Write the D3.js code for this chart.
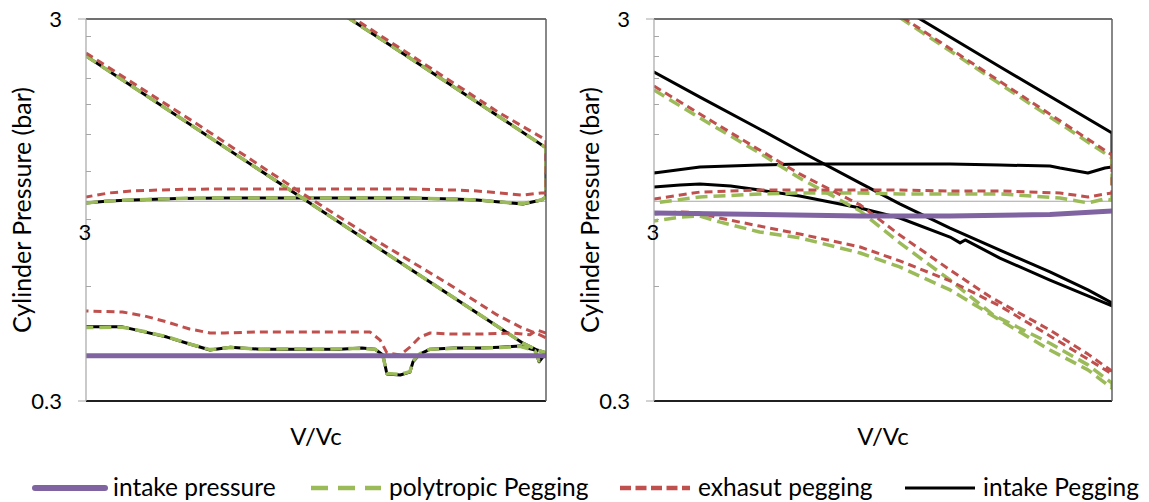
<!DOCTYPE html>
<html><head><meta charset="utf-8">
<script src="https://cdn.jsdelivr.net/npm/d3@7"></script>
<style>body{margin:0;background:#fff}svg{display:block}text{font-family:Lato,"Open Sans",sans-serif;fill:#000}</style>
</head><body>
<script>
// ---------- data ----------
const seriesNames = ["intake pressure","polytropic Pegging","exhasut pegging","intake Pegging"];
const yTickValues = [0.3, 0.83, 3];
const yTickTexts = ["0.3","3","3"];
const yMinorValues = [0.6,0.9,1.2,1.5,1.8,2.1,2.4,2.7];
const yGridValues = [1];
const yTitle = "Cylinder Pressure (bar)";
const xTitle = "V/Vc";

// Left panel
const leftIntake = [[1,0.394],[10,0.394]];
const leftPolyA = [[3.16,3.43],[5.01,2.39],[7.94,1.66],[10,1.38],[10,1.026],[9.77,1.008],[8.91,0.986],[7.94,0.996],[7.08,1.008],[6.31,1.014],[5.01,1.02],[3.98,1.02],[3.16,1.02],[2.51,1.02],[2.0,1.02],[1.58,1.017],[1.26,1.008],[1.12,1.002],[1,0.99]];
const leftIntakePegA = [[3.16,3.43],[5.01,2.39],[7.94,1.66],[10,1.38],[10,1.026],[9.77,1.008],[8.91,0.984],[7.94,0.996],[7.08,1.008],[6.31,1.014],[5.01,1.02],[3.98,1.02],[3.16,1.02],[2.51,1.02],[2.0,1.02],[1.58,1.017],[1.26,1.008],[1.12,1.002],[1,0.99]];
const leftExhA = [[3.16,3.49],[5.01,2.44],[7.94,1.70],[10,1.447],[10,1.051],[9.77,1.051],[8.91,1.038],[7.94,1.051],[7.08,1.064],[6.31,1.070],[5.01,1.077],[3.98,1.077],[3.16,1.077],[2.51,1.077],[2.0,1.077],[1.58,1.074],[1.26,1.064],[1.12,1.051],[1,1.026]];
const leftIntakePegB = [[1,2.40],[3.16,0.966],[7.94,0.466],[8.91,0.425],[9.56,0.408],[10,0.401],[9.66,0.380],[9.46,0.408],[8.78,0.418],[7.94,0.415],[7.19,0.413],[6.31,0.413],[5.60,0.410],[5.32,0.398],[5.14,0.380],[5.06,0.357],[4.82,0.351],[4.51,0.353],[4.42,0.396],[4.25,0.410],[3.98,0.413],[3.55,0.410],[3.16,0.410],[2.82,0.410],[2.39,0.410],[2.06,0.415],[1.86,0.408],[1.68,0.423],[1.50,0.441],[1.34,0.455],[1.20,0.469],[1,0.469]];
const leftPolyB = [[1,2.40],[3.16,0.966],[7.94,0.466],[8.91,0.425],[9.56,0.408],[10,0.401],[9.66,0.382],[9.46,0.406],[8.78,0.417],[7.94,0.414],[7.19,0.413],[6.31,0.412],[5.60,0.410],[5.32,0.399],[5.14,0.382],[5.06,0.358],[4.82,0.352],[4.51,0.354],[4.42,0.394],[4.25,0.410],[3.98,0.412],[3.55,0.411],[3.16,0.410],[2.82,0.411],[2.39,0.410],[2.06,0.414],[1.86,0.409],[1.68,0.423],[1.50,0.442],[1.34,0.456],[1.20,0.468],[1,0.467]];
const leftExhB = [[1,2.444],[1.77,1.574],[2.92,1.057],[4.36,0.778],[6.09,0.611],[7.83,0.504],[8.78,0.469],[9.70,0.447],[10,0.439],[10,0.452],[9.56,0.460],[9.23,0.447],[8.48,0.452],[7.19,0.449],[6.31,0.449],[5.60,0.452],[5.32,0.441],[5.06,0.415],[4.82,0.396],[4.51,0.401],[4.36,0.433],[4.14,0.455],[3.55,0.455],[2.92,0.455],[2.39,0.455],[2.0,0.452],[1.86,0.452],[1.68,0.463],[1.50,0.483],[1.34,0.501],[1.20,0.513],[1,0.516]];

// Right panel
const rightIntake = [[1,0.932],[2.82,0.915],[4.43,0.915],[7.32,0.923],[10,0.943]];
const rightIntakePegA = [[3.11,3.47],[5.69,2.25],[10,1.509],[10,1.230],[9.65,1.222],[8.86,1.186],[7.70,1.222],[7.32,1.237],[5.69,1.244],[4.43,1.252],[3.44,1.252],[2.82,1.252],[2.08,1.252],[1.70,1.244],[1.26,1.230],[1,1.186]];
const rightExhA = [[2.96,3.45],[5.69,2.06],[10,1.322],[10,1.051],[9.65,1.045],[8.86,1.026],[7.70,1.051],[5.69,1.064],[4.43,1.064],[3.44,1.070],[2.82,1.070],[2.08,1.070],[1.70,1.070],[1.26,1.057],[1,1.014]];
const rightPolyA = [[2.96,3.41],[5.69,2.03],[10,1.298],[10,1.008],[9.65,1.014],[8.86,0.990],[7.70,1.020],[5.69,1.045],[4.43,1.045],[3.44,1.045],[2.82,1.051],[2.08,1.051],[1.70,1.045],[1.26,1.026],[1,0.990]];
const rightIntakePegB = [[1,2.179],[1.26,1.874],[1.70,1.546],[2.08,1.354],[2.82,1.116],[3.44,0.984],[4.43,0.851],[5.69,0.745],[7.32,0.653],[8.86,0.586],[10,0.542],[10,0.532],[8.86,0.565],[7.32,0.622],[5.69,0.710],[4.78,0.792],[4.66,0.778],[4.43,0.806],[3.44,0.904],[2.82,0.960],[2.08,1.032],[1.70,1.070],[1.47,1.097],[1.26,1.110],[1.14,1.103],[1,1.090]];
const rightExhB = [[1,2.003],[1.26,1.692],[1.70,1.362],[2.08,1.179],[2.82,0.978],[3.44,0.816],[4.43,0.661],[5.42,0.562],[7.32,0.460],[8.86,0.398],[10,0.359],[10,0.353],[8.86,0.386],[7.32,0.444],[5.69,0.532],[4.43,0.619],[3.44,0.698],[2.82,0.759],[2.08,0.821],[1.70,0.861],[1.39,0.904],[1.26,0.932],[1.14,0.938],[1,0.926]];
const rightPolyB = [[1,1.955],[1.26,1.652],[1.70,1.338],[2.08,1.150],[2.82,0.943],[3.44,0.778],[4.43,0.622],[5.50,0.504],[7.32,0.425],[8.86,0.373],[10,0.334],[10,0.324],[8.86,0.362],[7.32,0.408],[5.69,0.489],[4.43,0.586],[3.44,0.673],[2.82,0.732],[2.08,0.802],[1.70,0.831],[1.39,0.883],[1.26,0.915],[1.14,0.909],[1,0.888]];

// ---------- styles ----------
const styles = {
  intake: {color:"#8064A2", width:5, dash:null},
  poly:   {color:"#9BBB59", width:3.5, dash:"12,6"},
  exh:    {color:"#C0504D", width:3, dash:"8,5"},
  peg:    {color:"#000000", width:3, dash:null}
};

const W = 1149, H = 502;
const svg = d3.select("body").append("svg").attr("width",W).attr("height",H);
const plotTop = 19, plotBottom = 401;

const panels = [
  {x0:86, x1:546, titleX:22, series:[
    ["peg",leftIntakePegA],["peg",leftIntakePegB],
    ["poly",leftPolyA],["poly",leftPolyB],
    ["exh",leftExhA],["exh",leftExhB],
    ["intake",leftIntake]]},
  {x0:654, x1:1112, titleX:590, series:[
    ["peg",rightIntakePegA],["peg",rightIntakePegB],
    ["poly",rightPolyA],["poly",rightPolyB],
    ["exh",rightExhA],["exh",rightExhB],
    ["intake",rightIntake]]}
];

const y = d3.scaleLog().domain([0.3,3]).range([plotBottom, plotTop]);

panels.forEach((p,i)=>{
  const x = d3.scaleLog().domain([1,10]).range([p.x0,p.x1]);
  const g = svg.append("g");
  const cid = "clip"+i;
  svg.append("clipPath").attr("id",cid).append("rect")
    .attr("x",p.x0).attr("y",plotTop).attr("width",p.x1-p.x0).attr("height",plotBottom-plotTop);

  g.selectAll(".grid").data(yGridValues).enter().append("line")
    .attr("x1",p.x0).attr("x2",p.x1).attr("y1",d=>y(d)).attr("y2",d=>y(d))
    .attr("stroke","#a6a6a6").attr("stroke-width",1.2);

  g.selectAll(".minor").data(yMinorValues).enter().append("line")
    .attr("x1",p.x0).attr("x2",p.x0+5).attr("y1",d=>Math.round(y(d))+0.5).attr("y2",d=>Math.round(y(d))+0.5)
    .attr("stroke","#a6a6a6").attr("stroke-width",1);
  g.selectAll(".major").data([0.3,3]).enter().append("line")
    .attr("x1",p.x0-8).attr("x2",p.x0).attr("y1",d=>y(d)).attr("y2",d=>y(d))
    .attr("stroke","#a6a6a6").attr("stroke-width",1);

  const line = d3.line().x(d=>x(d[0])).y(d=>y(d[1]));
  const sg = g.append("g").attr("clip-path",`url(#${cid})`);
  p.series.forEach(([k,data])=>{
    const s = styles[k];
    sg.append("path").attr("d",line(data)).attr("fill","none")
      .attr("stroke",s.color).attr("stroke-width",s.width)
      .attr("stroke-dasharray",s.dash).attr("stroke-linejoin","round")
      .attr("stroke-linecap", s.dash? "butt":"round");
  });

  g.append("line").attr("x1",p.x0).attr("x2",p.x1).attr("y1",plotTop).attr("y2",plotTop).attr("stroke","#404040").attr("stroke-width",1.5);
  g.append("line").attr("x1",p.x0).attr("x2",p.x1).attr("y1",plotBottom).attr("y2",plotBottom).attr("stroke","#202020").attr("stroke-width",2);
  g.append("line").attr("x1",p.x1).attr("x2",p.x1).attr("y1",plotTop).attr("y2",plotBottom).attr("stroke","#606060").attr("stroke-width",1.5);
  g.append("line").attr("x1",p.x0).attr("x2",p.x0).attr("y1",plotTop).attr("y2",plotBottom).attr("stroke","#a6a6a6").attr("stroke-width",1.2);

  yTickValues.forEach((v,j)=>{
    const mid = j===1;
    g.append("text").attr("x", mid ? p.x0-1 : p.x0-24).attr("y",y(v))
      .attr("dy","0.35em").attr("text-anchor", mid ? "middle":"end")
      .attr("font-size",22).text(yTickTexts[j]);
  });

  g.append("text").attr("transform",`translate(${p.titleX},${(plotTop+plotBottom)/2}) rotate(-90)`)
    .attr("text-anchor","middle").attr("dy","0.35em").attr("font-size",25).text(yTitle);
  g.append("text").attr("x",(p.x0+p.x1)/2).attr("y",437).attr("dy","0.35em")
    .attr("text-anchor","middle").attr("font-size",24).text(xTitle);
});

const legendX = [35, 311, 620, 905];
const legendKeys = ["intake","poly","exh","peg"];
const legendDash = {poly:"17,10", exh:"11,4.5"};
legendKeys.forEach((k,i)=>{
  const s = styles[k];
  const lg = svg.append("g");
  lg.append("line").attr("x1",legendX[i]).attr("x2",legendX[i]+70).attr("y1",488).attr("y2",488)
    .attr("stroke",s.color).attr("stroke-width",k==="intake"?6:(k==="peg"?3:4.5))
    .attr("stroke-dasharray",legendDash[k]||null).attr("stroke-linecap",k==="intake"?"round":"butt");
  lg.append("text").attr("x",legendX[i]+78).attr("y",487).attr("dy","0.35em")
    .attr("font-size",24.5).text(seriesNames[i]);
});
</script>
</body></html>
